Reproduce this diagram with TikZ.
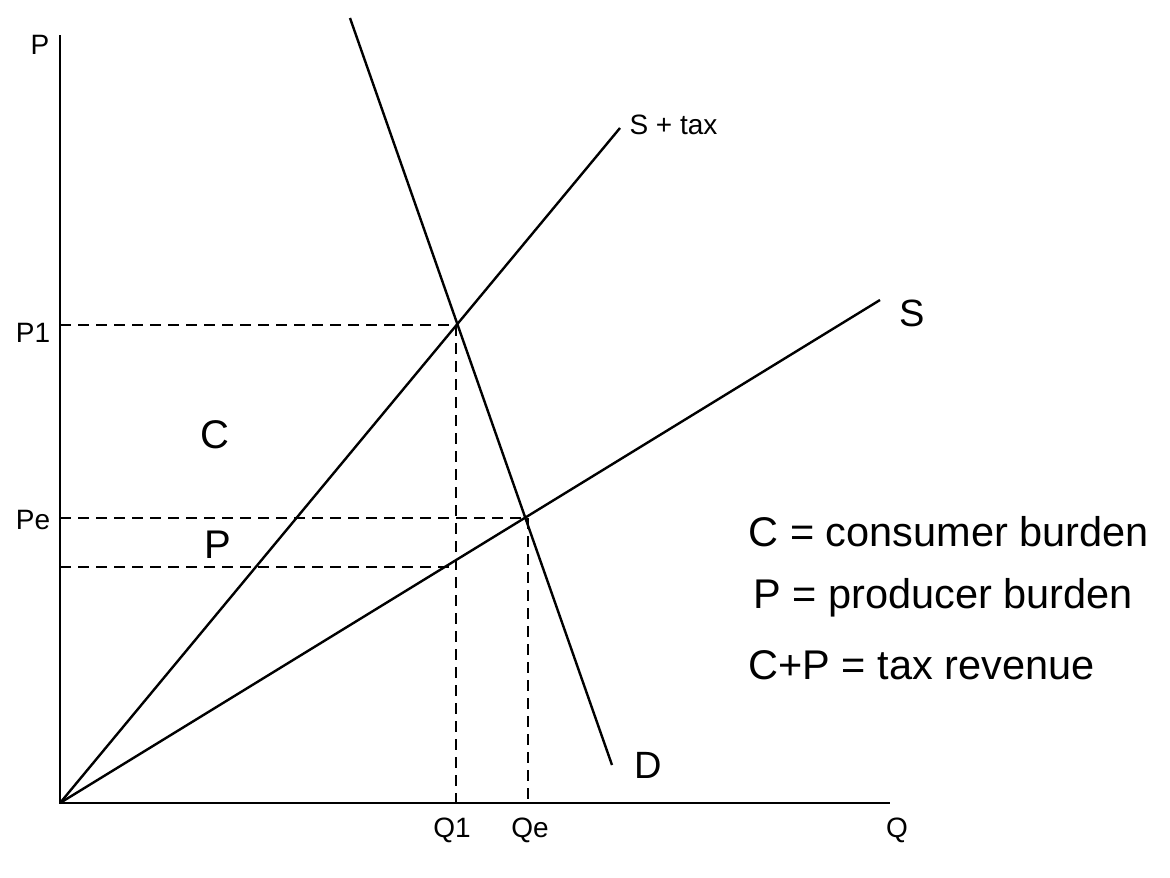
\documentclass[tikz,border=0pt]{standalone}
\usepackage{fontspec}
\setmainfont{Liberation Sans}
\begin{document}
\begin{tikzpicture}[x=1pt,y=-1pt,
  curve/.style={line width=2.4pt},
  guide/.style={line width=2pt,dash pattern=on 11pt off 7pt},
  hand/.style={font=\fontsize{28}{30}\selectfont},
  big/.style={font=\fontsize{41.5}{44}\selectfont,anchor=west}]
\useasboundingbox (0,0) rectangle (1170,878);
\coordinate (O) at (60,803);
\coordinate (ytop) at (60,35);
\coordinate (xend) at (890,803);
\coordinate (st) at (620,128);
\coordinate (s) at (880,300);
\coordinate (dtop) at (350,18);
\coordinate (dbot) at (612,765);
\coordinate (E1) at (456,325);
\coordinate (E2) at (528,518);
\coordinate (Ya) at (60,325);
\coordinate (Yb) at (60,518);
\coordinate (Yc) at (60,567);
\coordinate (Xa) at (456,803);
\coordinate (Xb) at (528,803);
\coordinate (Lc) at (456,567);
\draw[curve] (ytop) -- (O) -- (xend);
\draw[curve] (O) -- (st);
\draw[curve] (O) -- (s);
\draw[curve] (dtop) -- (dbot);
\draw[guide] (Ya) -- (E1) -- (Xa);
\draw[guide] (Yb) -- (E2) -- (Xb);
\draw[guide] (Yc) -- (Lc);
\node[hand] (lp) at (40,45) {P};
\node[hand] (lp1) at (33,333) {P1};
\node[hand] (lpe) at (33,520) {Pe};
\node[hand] (lq1) at (452,830) {Q1};
\node[hand] (lqe) at (530,830) {Qe};
\node[hand] (lq) at (897,830) {Q};
\node[hand,anchor=west] (lst) at (626,125) {S + tax};
\node[font=\fontsize{38}{40}\selectfont] (ls) at (912,313) {S};
\node[font=\fontsize{38}{40}\selectfont] (ld) at (648,765) {D};
\node[font=\fontsize{40}{44}\selectfont] (C) at (215,435) {C};
\node[font=\fontsize{40}{44}\selectfont] (Pp) at (218,545) {P};
\node[big] (l1) at (745,532) {C = consumer burden};
\node[big] (l2) at (750,598) {P = producer burden};
\node[big] (l3) at (745,665) {C+P = tax revenue};
\end{tikzpicture}
\end{document}
